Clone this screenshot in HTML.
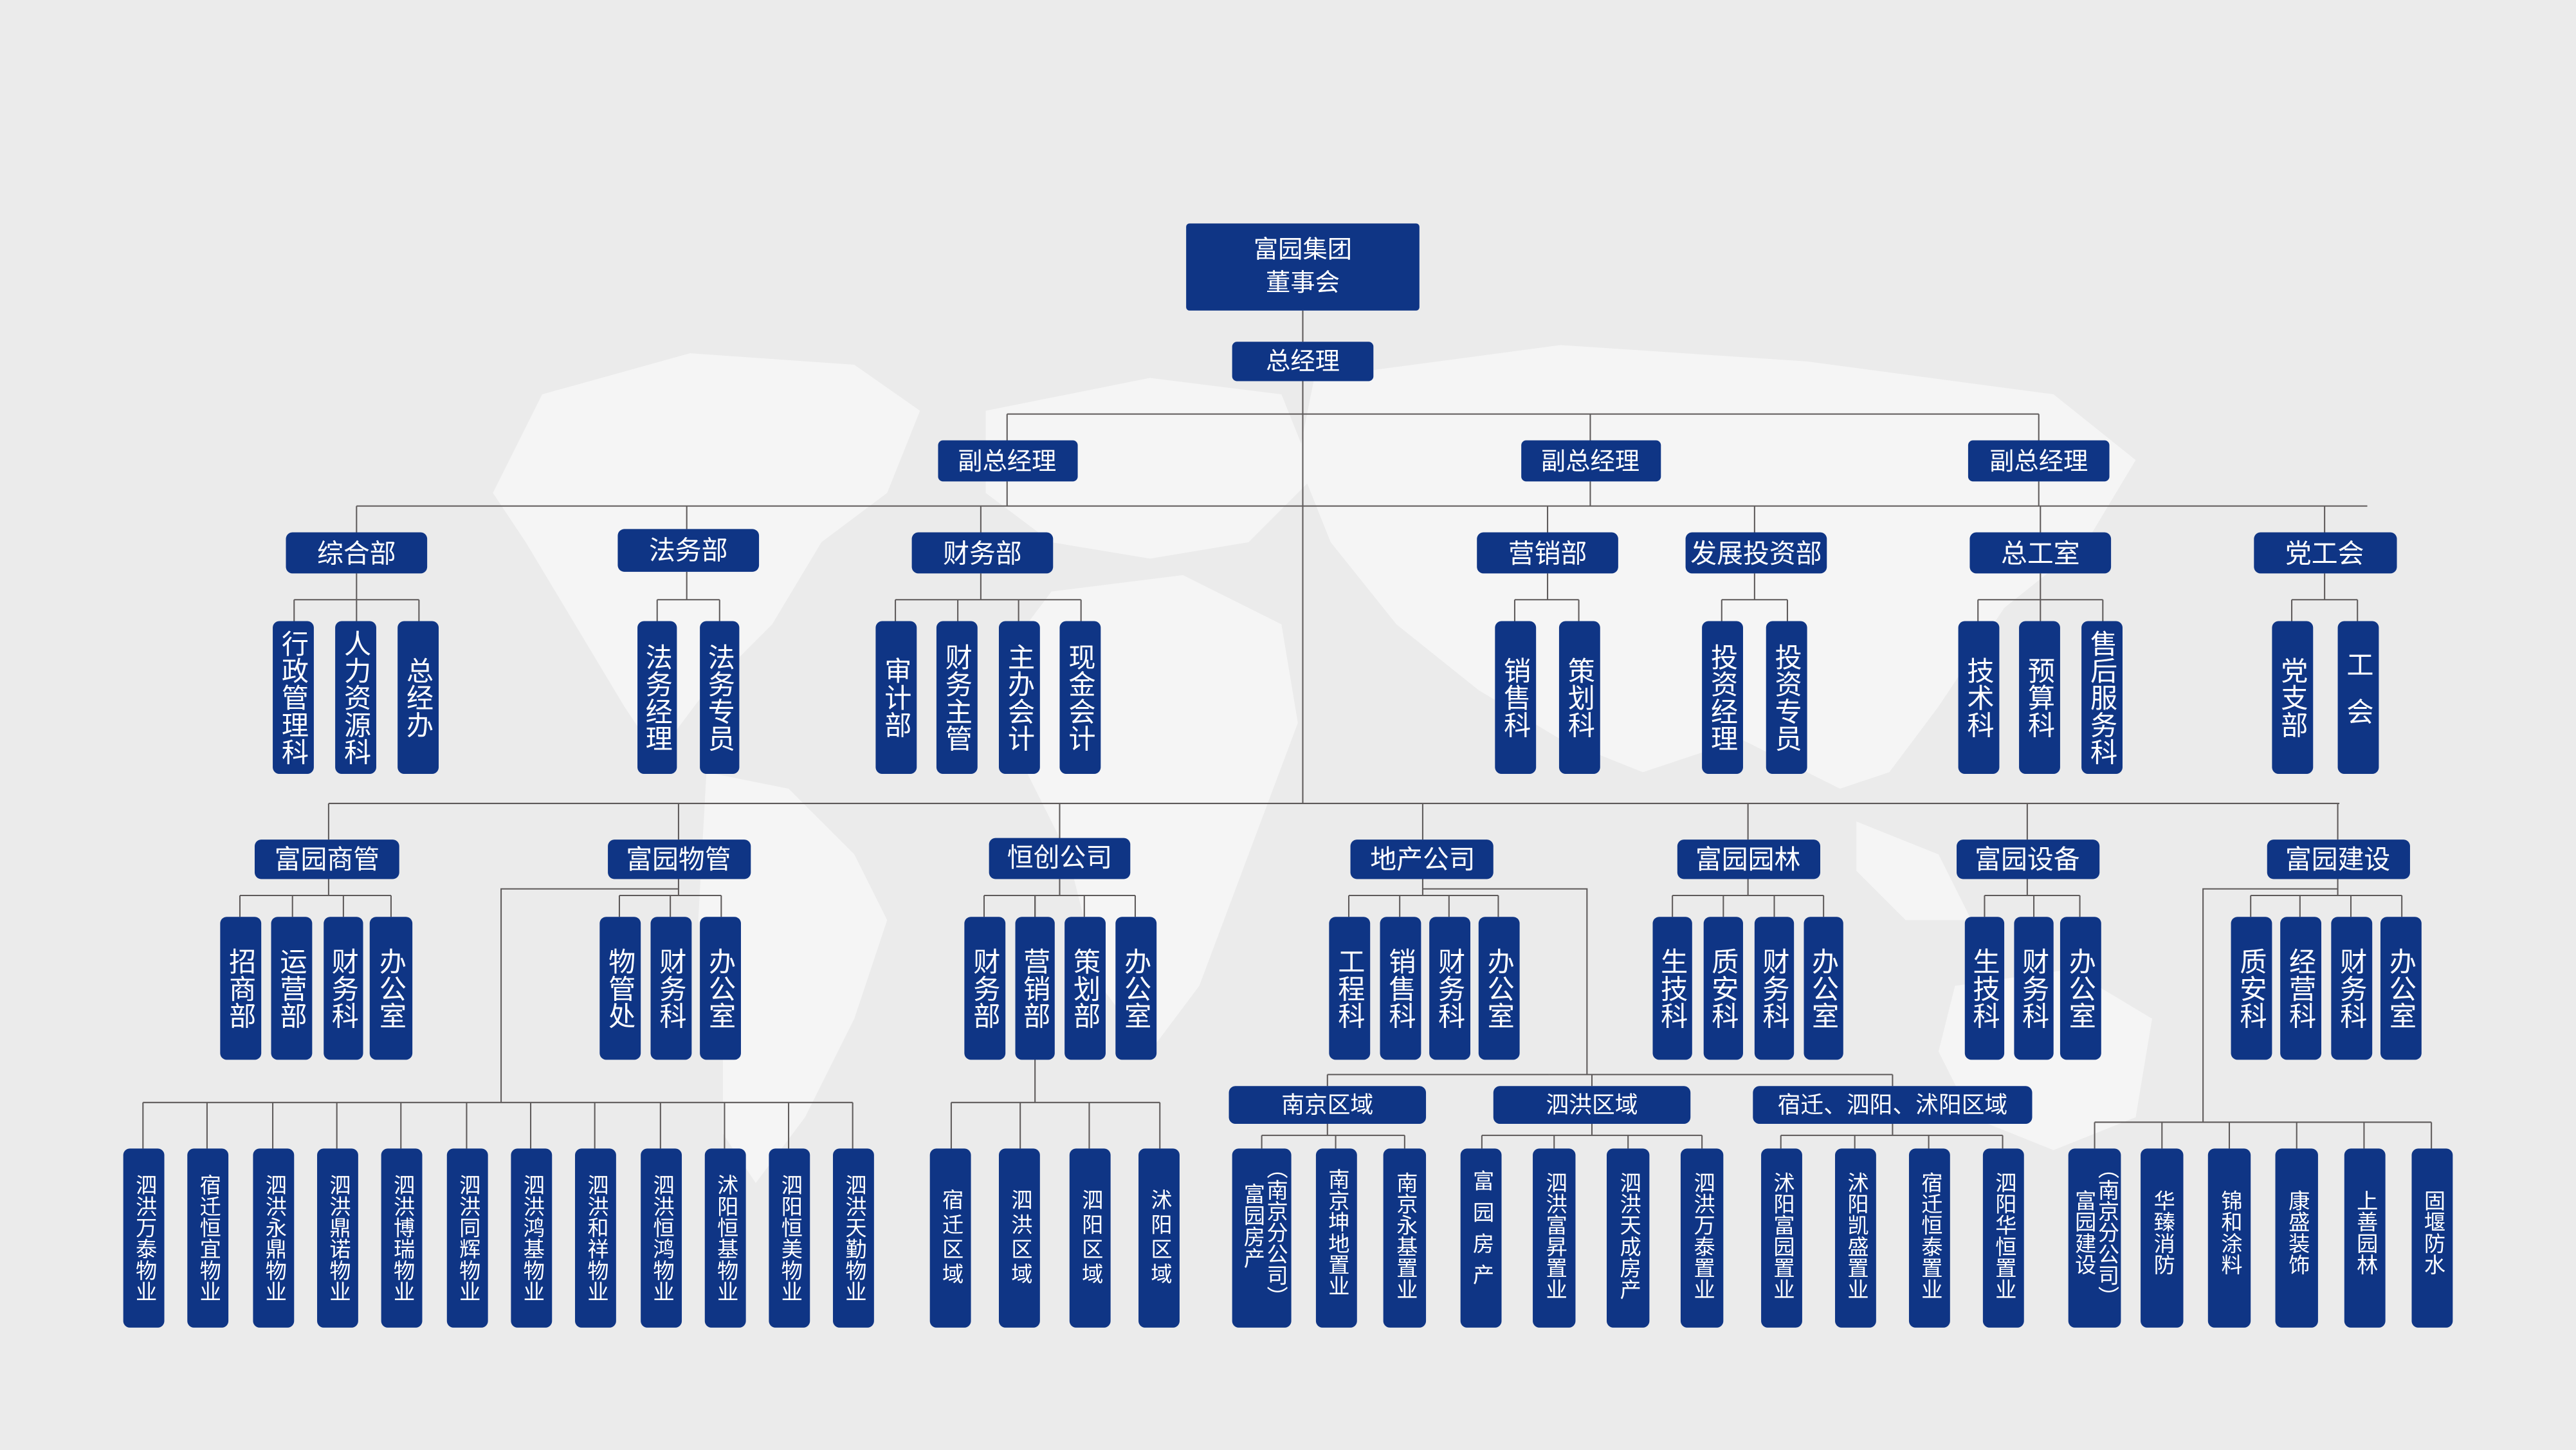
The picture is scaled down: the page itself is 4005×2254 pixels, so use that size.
<!DOCTYPE html>
<html><head><meta charset="utf-8"><style>
html,body{margin:0;padding:0;background:#ebebeb;}
svg{display:block;}
text{font-family:"Liberation Sans","Noto Sans CJK SC",sans-serif;fill:#fff;}
.b{fill:#0f3585;}
.l{stroke:#5e5a5a;stroke-width:0.8;fill:none;}
.v{writing-mode:vertical-rl;text-anchor:middle;}
.h{text-anchor:middle;dominant-baseline:central;}
.m{fill:#f7f7f7;}
</style></head><body>
<svg width="4005" height="2254" viewBox="0 0 1568 882.5" xmlns="http://www.w3.org/2000/svg">
<rect width="1568" height="882.5" fill="#ebebeb"/>
<!-- faint world map -->
<g class="m" opacity="0.85">
<path d="M330 240 L420 215 L520 222 L560 250 L540 300 L500 330 L470 380 L430 420 L400 460 L380 430 L350 380 L320 330 L300 300 Z"/>
<path d="M430 470 L480 480 L520 520 L540 560 L520 620 L490 680 L460 720 L440 690 L440 620 L425 560 Z"/>
<path d="M600 250 L700 230 L780 240 L800 290 L760 330 L700 340 L640 330 L600 300 Z"/>
<path d="M640 360 L720 350 L780 380 L790 440 L760 520 L730 600 L700 640 L670 600 L650 520 L620 460 L610 400 Z"/>
<path d="M800 230 L950 210 L1100 220 L1250 240 L1300 280 L1270 330 L1220 370 L1180 430 L1150 470 L1120 480 L1060 450 L1000 470 L950 450 L900 420 L850 380 L810 330 L790 280 Z"/>
<path d="M1130 500 L1180 520 L1200 560 L1160 560 L1130 530 Z"/>
<path d="M1190 600 L1260 590 L1310 620 L1300 680 L1250 700 L1200 680 L1180 640 Z"/>
</g>
<!-- connectors -->
<g class="l">
<path d="M793 189V208M793 232V489"/>
<path d="M613 252H1241M613 252V268M968 252V268M1241 252V268"/>
<path d="M217 308H1441M613 293V308M968 293V308M1241 293V308"/>
<path d="M217 308V324M418 308V322M597 308V324M942 308V324M1068 308V324M1242 308V324M1415 308V324M1441 308V308"/>
<path d="M217 349V365M179 365H255M179 365V378M217 365V378M255 365V378"/>
<path d="M418 348V365M400 365H438M400 365V378M438 365V378"/>
<path d="M597 349V365M545 365H658M545 365V378M583 365V378M620 365V378M658 365V378"/>
<path d="M942 349V365M922 365H961M922 365V378M961 365V378"/>
<path d="M1068 349V365M1048 365H1088M1048 365V378M1088 365V378"/>
<path d="M1242 349V365M1204 365H1280M1204 365V378M1242 365V378M1280 365V378"/>
<path d="M1415 349V365M1395 365H1435M1395 365V378M1435 365V378"/>
<path d="M200 489H1424M200 489V511M413 489V511M645 489V511M866 489V511M1064 489V511M1234 489V511M1423 489V511"/>
<path d="M200 535V545M146 545H238M146 545V558M178 545V558M209 545V558M238 545V558"/>
<path d="M413 535V545M377 545H439M377 545V558M408 545V558M439 545V558"/>
<path d="M413 541H305V671M87 671H519"/>
<path d="M87 671V699M126 671V699M166 671V699M205 671V699M244 671V699M284 671V699M323 671V699M362 671V699M402 671V699M441 671V699M480 671V699M519 671V699"/>
<path d="M645 535V545M599 545H691M599 545V558M630 545V558M660 545V558M691 545V558"/>
<path d="M630 545V671M579 671H706M579 671V699M621 671V699M663 671V699M706 671V699"/>
<path d="M866 535V545M821 545H912M821 545V558M852 545V558M882 545V558M912 545V558"/>
<path d="M866 541H966V654M808 654H1152M808 654V661M969 654V661M1152 654V661"/>
<path d="M808 684V691M768 691H855M768 691V699M813 691V699M855 691V699"/>
<path d="M969 684V691M902 691H1036M902 691V699M946 691V699M991 691V699M1036 691V699"/>
<path d="M1152 684V691M1084 691H1219M1084 691V699M1129 691V699M1174 691V699M1219 691V699"/>
<path d="M1064 535V545M1018 545H1110M1018 545V558M1049 545V558M1080 545V558M1110 545V558"/>
<path d="M1234 535V545M1208 545H1266M1208 545V558M1238 545V558M1266 545V558"/>
<path d="M1423 535V545M1370 545H1462M1370 545V558M1400 545V558M1431 545V558M1462 545V558"/>
<path d="M1423 541H1341V683M1275 683H1480M1275 683V699M1316 683V699M1357 683V699M1398 683V699M1439 683V699M1480 683V699"/>
</g>
<!-- top -->
<rect class="b" x="722" y="136" width="142" height="53" rx="2"/>
<text class="h" x="793" y="152" font-size="15">富园集团</text>
<text class="h" x="793" y="172" font-size="15">董事会</text>
<rect class="b" x="750" y="208" width="86" height="24" rx="3"/>
<text class="h" x="793" y="220" font-size="15">总经理</text>
<rect class="b" x="571" y="268" width="85" height="25" rx="3"/><text class="h" x="613" y="281" font-size="15">副总经理</text>
<rect class="b" x="926" y="268" width="85" height="25" rx="3"/><text class="h" x="968" y="281" font-size="15">副总经理</text>
<rect class="b" x="1198" y="268" width="86" height="25" rx="3"/><text class="h" x="1241" y="281" font-size="15">副总经理</text>
<!-- depts -->
<g font-size="16">
<rect class="b" x="174" y="324" width="86" height="25" rx="4"/><text class="h" x="217" y="337">综合部</text>
<rect class="b" x="376" y="322" width="86" height="26" rx="4"/><text class="h" x="419" y="335">法务部</text>
<rect class="b" x="555" y="324" width="86" height="25" rx="4"/><text class="h" x="598" y="337">财务部</text>
<rect class="b" x="899" y="324" width="86" height="25" rx="4"/><text class="h" x="942" y="337">营销部</text>
<rect class="b" x="1026" y="324" width="86" height="25" rx="4"/><text class="h" x="1069" y="337">发展投资部</text>
<rect class="b" x="1199" y="324" width="86" height="25" rx="4"/><text class="h" x="1242" y="337">总工室</text>
<rect class="b" x="1372" y="324" width="87" height="25" rx="4"/><text class="h" x="1415" y="337">党工会</text>
</g>
<g font-size="16.5">
<rect class="b" x="166" y="378" width="25" height="93" rx="4"/><text class="v" x="178.5" y="424.5">行政管理科</text>
<rect class="b" x="204" y="378" width="25" height="93" rx="4"/><text class="v" x="216.5" y="424.5">人力资源科</text>
<rect class="b" x="242" y="378" width="25" height="93" rx="4"/><text class="v" x="254.5" y="424.5">总经办</text>
<rect class="b" x="388" y="378" width="24" height="93" rx="4"/><text class="v" x="400" y="424.5">法务经理</text>
<rect class="b" x="426" y="378" width="24" height="93" rx="4"/><text class="v" x="438" y="424.5">法务专员</text>
<rect class="b" x="533" y="378" width="25" height="93" rx="4"/><text class="v" x="545.5" y="424.5">审计部</text>
<rect class="b" x="570" y="378" width="25" height="93" rx="4"/><text class="v" x="582.5" y="424.5">财务主管</text>
<rect class="b" x="608" y="378" width="25" height="93" rx="4"/><text class="v" x="620.5" y="424.5">主办会计</text>
<rect class="b" x="645" y="378" width="25" height="93" rx="4"/><text class="v" x="657.5" y="424.5">现金会计</text>
<rect class="b" x="910" y="378" width="25" height="93" rx="4"/><text class="v" x="922.5" y="424.5">销售科</text>
<rect class="b" x="949" y="378" width="25" height="93" rx="4"/><text class="v" x="961.5" y="424.5">策划科</text>
<rect class="b" x="1036" y="378" width="25" height="93" rx="4"/><text class="v" x="1048.5" y="424.5">投资经理</text>
<rect class="b" x="1075" y="378" width="25" height="93" rx="4"/><text class="v" x="1087.5" y="424.5">投资专员</text>
<rect class="b" x="1192" y="378" width="25" height="93" rx="4"/><text class="v" x="1204.5" y="424.5">技术科</text>
<rect class="b" x="1229" y="378" width="25" height="93" rx="4"/><text class="v" x="1241.5" y="424.5">预算科</text>
<rect class="b" x="1267" y="378" width="25" height="93" rx="4"/><text class="v" x="1279.5" y="424.5">售后服务科</text>
<rect class="b" x="1383" y="378" width="25" height="93" rx="4"/><text class="v" x="1395.5" y="424.5">党支部</text>
<rect class="b" x="1423" y="378" width="25" height="93" rx="4"/><text class="v" x="1435.5" y="424.5" letter-spacing="12">工会</text>
</g>
<!-- companies -->
<g font-size="16">
<rect class="b" x="155" y="511" width="88" height="24" rx="4"/><text class="h" x="199" y="523">富园商管</text>
<rect class="b" x="370" y="511" width="87" height="24" rx="4"/><text class="h" x="413" y="523">富园物管</text>
<rect class="b" x="602" y="510" width="86" height="25" rx="4"/><text class="h" x="645" y="522">恒创公司</text>
<rect class="b" x="822" y="511" width="87" height="24" rx="4"/><text class="h" x="866" y="523">地产公司</text>
<rect class="b" x="1021" y="511" width="87" height="24" rx="4"/><text class="h" x="1064" y="523">富园园林</text>
<rect class="b" x="1191" y="511" width="87" height="24" rx="4"/><text class="h" x="1234" y="523">富园设备</text>
<rect class="b" x="1380" y="511" width="87" height="24" rx="4"/><text class="h" x="1423" y="523">富园建设</text>
</g>
<g font-size="16.5">
<rect class="b" x="134" y="558" width="25" height="87" rx="4"/><text class="v" x="146.5" y="601.5">招商部</text>
<rect class="b" x="165" y="558" width="25" height="87" rx="4"/><text class="v" x="177.5" y="601.5">运营部</text>
<rect class="b" x="197" y="558" width="24" height="87" rx="4"/><text class="v" x="209" y="601.5">财务科</text>
<rect class="b" x="225" y="558" width="26" height="87" rx="4"/><text class="v" x="238" y="601.5">办公室</text>
<rect class="b" x="365" y="558" width="25" height="87" rx="4"/><text class="v" x="377.5" y="601.5">物管处</text>
<rect class="b" x="396" y="558" width="25" height="87" rx="4"/><text class="v" x="408.5" y="601.5">财务科</text>
<rect class="b" x="426" y="558" width="25" height="87" rx="4"/><text class="v" x="438.5" y="601.5">办公室</text>
<rect class="b" x="587" y="558" width="25" height="87" rx="4"/><text class="v" x="599.5" y="601.5">财务部</text>
<rect class="b" x="618" y="558" width="24" height="87" rx="4"/><text class="v" x="630" y="601.5">营销部</text>
<rect class="b" x="648" y="558" width="25" height="87" rx="4"/><text class="v" x="660.5" y="601.5">策划部</text>
<rect class="b" x="679" y="558" width="25" height="87" rx="4"/><text class="v" x="691.5" y="601.5">办公室</text>
<rect class="b" x="809" y="558" width="25" height="87" rx="4"/><text class="v" x="821.5" y="601.5">工程科</text>
<rect class="b" x="840" y="558" width="25" height="87" rx="4"/><text class="v" x="852.5" y="601.5">销售科</text>
<rect class="b" x="870" y="558" width="25" height="87" rx="4"/><text class="v" x="882.5" y="601.5">财务科</text>
<rect class="b" x="900" y="558" width="25" height="87" rx="4"/><text class="v" x="912.5" y="601.5">办公室</text>
<rect class="b" x="1006" y="558" width="24" height="87" rx="4"/><text class="v" x="1018" y="601.5">生技科</text>
<rect class="b" x="1037" y="558" width="24" height="87" rx="4"/><text class="v" x="1049" y="601.5">质安科</text>
<rect class="b" x="1068" y="558" width="24" height="87" rx="4"/><text class="v" x="1080" y="601.5">财务科</text>
<rect class="b" x="1098" y="558" width="24" height="87" rx="4"/><text class="v" x="1110" y="601.5">办公室</text>
<rect class="b" x="1196" y="558" width="24" height="87" rx="4"/><text class="v" x="1208" y="601.5">生技科</text>
<rect class="b" x="1226" y="558" width="24" height="87" rx="4"/><text class="v" x="1238" y="601.5">财务科</text>
<rect class="b" x="1254" y="558" width="25" height="87" rx="4"/><text class="v" x="1266.5" y="601.5">办公室</text>
<rect class="b" x="1358" y="558" width="25" height="87" rx="4"/><text class="v" x="1370.5" y="601.5">质安科</text>
<rect class="b" x="1388" y="558" width="25" height="87" rx="4"/><text class="v" x="1400.5" y="601.5">经营科</text>
<rect class="b" x="1419" y="558" width="25" height="87" rx="4"/><text class="v" x="1431.5" y="601.5">财务科</text>
<rect class="b" x="1449" y="558" width="25" height="87" rx="4"/><text class="v" x="1461.5" y="601.5">办公室</text>
</g>
<!-- regions -->
<g font-size="14">
<rect class="b" x="748" y="661" width="120" height="23" rx="4"/><text class="h" x="808" y="672.5">南京区域</text>
<rect class="b" x="909" y="661" width="120" height="23" rx="4"/><text class="h" x="969" y="672.5">泗洪区域</text>
<rect class="b" x="1067" y="661" width="170" height="23" rx="4"/><text class="h" x="1152" y="672.5">宿迁、泗阳、沭阳区域</text>
</g>
<!-- bottom row -->
<g font-size="13">
<rect class="b" x="75" y="699" width="25" height="109" rx="4"/><text class="v" x="87.5" y="753.5">泗洪万泰物业</text>
<rect class="b" x="114" y="699" width="25" height="109" rx="4"/><text class="v" x="126.5" y="753.5">宿迁恒宜物业</text>
<rect class="b" x="154" y="699" width="25" height="109" rx="4"/><text class="v" x="166.5" y="753.5">泗洪永鼎物业</text>
<rect class="b" x="193" y="699" width="25" height="109" rx="4"/><text class="v" x="205.5" y="753.5">泗洪鼎诺物业</text>
<rect class="b" x="232" y="699" width="25" height="109" rx="4"/><text class="v" x="244.5" y="753.5">泗洪博瑞物业</text>
<rect class="b" x="272" y="699" width="25" height="109" rx="4"/><text class="v" x="284.5" y="753.5">泗洪同辉物业</text>
<rect class="b" x="311" y="699" width="25" height="109" rx="4"/><text class="v" x="323.5" y="753.5">泗洪鸿基物业</text>
<rect class="b" x="350" y="699" width="25" height="109" rx="4"/><text class="v" x="362.5" y="753.5">泗洪和祥物业</text>
<rect class="b" x="390" y="699" width="25" height="109" rx="4"/><text class="v" x="402.5" y="753.5">泗洪恒鸿物业</text>
<rect class="b" x="429" y="699" width="25" height="109" rx="4"/><text class="v" x="441.5" y="753.5">沭阳恒基物业</text>
<rect class="b" x="468" y="699" width="25" height="109" rx="4"/><text class="v" x="480.5" y="753.5">泗阳恒美物业</text>
<rect class="b" x="507" y="699" width="25" height="109" rx="4"/><text class="v" x="519.5" y="753.5">泗洪天勤物业</text>
<rect class="b" x="566" y="699" width="25" height="109" rx="4"/><text class="v" x="578.5" y="753.5" letter-spacing="2">宿迁区域</text>
<rect class="b" x="608" y="699" width="25" height="109" rx="4"/><text class="v" x="620.5" y="753.5" letter-spacing="2">泗洪区域</text>
<rect class="b" x="651" y="699" width="25" height="109" rx="4"/><text class="v" x="663.5" y="753.5" letter-spacing="2">泗阳区域</text>
<rect class="b" x="693" y="699" width="25" height="109" rx="4"/><text class="v" x="705.5" y="753.5" letter-spacing="2">沭阳区域</text>
<rect class="b" x="750" y="699" width="36" height="109" rx="4"/><text class="v" x="762" y="746">富园房产</text><text class="v" x="776" y="750">（南京分公司）</text>
<rect class="b" x="801" y="699" width="25" height="109" rx="4"/><text class="v" x="813.5" y="750">南京坤地置业</text>
<rect class="b" x="842" y="699" width="26" height="109" rx="4"/><text class="v" x="855" y="752">南京永基置业</text>
<rect class="b" x="889" y="699" width="25" height="109" rx="4"/><text class="v" x="901.5" y="750" letter-spacing="6">富园房产</text>
<rect class="b" x="933" y="699" width="26" height="109" rx="4"/><text class="v" x="946" y="752">泗洪富昇置业</text>
<rect class="b" x="978" y="699" width="26" height="109" rx="4"/><text class="v" x="991" y="752">泗洪天成房产</text>
<rect class="b" x="1023" y="699" width="26" height="109" rx="4"/><text class="v" x="1036" y="752">泗洪万泰置业</text>
<rect class="b" x="1072" y="699" width="25" height="109" rx="4"/><text class="v" x="1084.5" y="752">沭阳富园置业</text>
<rect class="b" x="1117" y="699" width="25" height="109" rx="4"/><text class="v" x="1129.5" y="752">沭阳凯盛置业</text>
<rect class="b" x="1162" y="699" width="25" height="109" rx="4"/><text class="v" x="1174.5" y="752">宿迁恒泰置业</text>
<rect class="b" x="1207" y="699" width="25" height="109" rx="4"/><text class="v" x="1219.5" y="752">泗阳华恒置业</text>
<rect class="b" x="1259" y="699" width="32" height="109" rx="4"/><text class="v" x="1268" y="750">富园建设</text><text class="v" x="1282" y="750">（南京分公司）</text>
<rect class="b" x="1303" y="699" width="26" height="109" rx="4"/><text class="v" x="1316" y="750">华臻消防</text>
<rect class="b" x="1344" y="699" width="26" height="109" rx="4"/><text class="v" x="1357" y="750">锦和涂料</text>
<rect class="b" x="1385" y="699" width="26" height="109" rx="4"/><text class="v" x="1398" y="750">康盛装饰</text>
<rect class="b" x="1427" y="699" width="25" height="109" rx="4"/><text class="v" x="1439.5" y="750">上善园林</text>
<rect class="b" x="1468" y="699" width="25" height="109" rx="4"/><text class="v" x="1480.5" y="750">固堰防水</text>
</g>
</svg>
</body></html>
